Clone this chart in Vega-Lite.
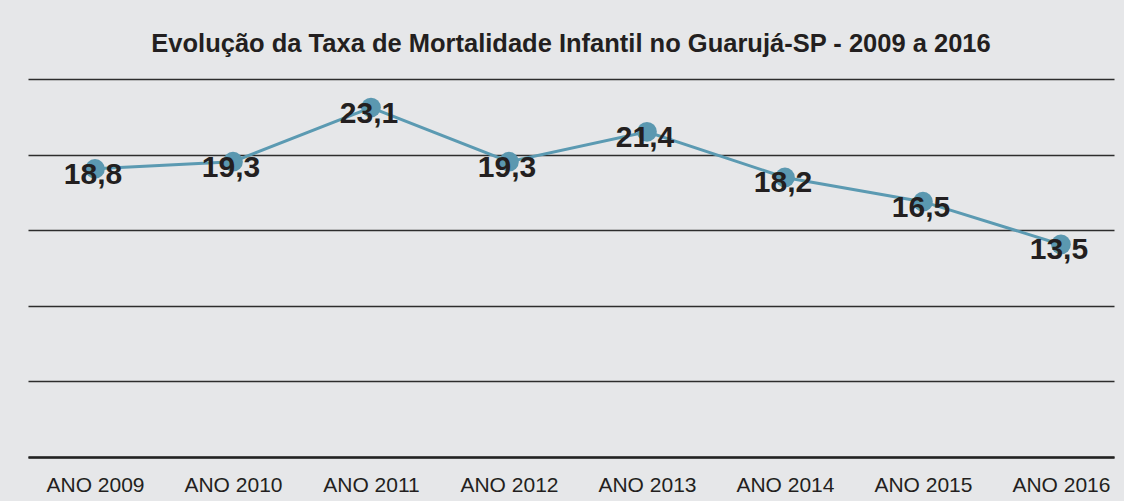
{
  "$schema": "https://vega.github.io/schema/vega-lite/v6.json",
  "width": 1086,
  "height": 378,
  "autosize": "none",
  "padding": {"left": 28, "top": 79, "right": 10, "bottom": 44},
  "background": "#e6e7e9",
  "config": {
    "view": {"stroke": null},
    "locale": {"number": {"decimal": ",", "thousands": ".", "grouping": [3], "currency": ["R$", ""]}}
  },
  "title": {
    "text": "Evolução da Taxa de Mortalidade Infantil no Guarujá-SP - 2009 a 2016",
    "font": "Liberation Sans",
    "fontWeight": "bold",
    "fontSize": 25.5,
    "color": "#231f20",
    "anchor": "middle",
    "baseline": "alphabetic",
    "offset": 2
  },
  "data": {
    "values": [
      {"ano": "ANO 2009", "taxa": 18.8},
      {"ano": "ANO 2010", "taxa": 19.3},
      {"ano": "ANO 2011", "taxa": 23.1},
      {"ano": "ANO 2012", "taxa": 19.3},
      {"ano": "ANO 2013", "taxa": 21.4},
      {"ano": "ANO 2014", "taxa": 18.2},
      {"ano": "ANO 2015", "taxa": 16.5},
      {"ano": "ANO 2016", "taxa": 13.5}
    ]
  },
  "encoding": {
    "x": {
      "field": "ano",
      "type": "ordinal",
      "sort": null,
      "scale": {"type": "point", "padding": 0.435, "align": 0.558},
      "axis": {
        "title": null,
        "labelAngle": 0,
        "ticks": false,
        "grid": false,
        "domain": true,
        "domainColor": "#222222",
        "domainWidth": 2.5,
        "labelFont": "Liberation Sans",
        "labelFontSize": 21,
        "labelColor": "#231f20",
        "labelPadding": 17
      }
    },
    "y": {
      "field": "taxa",
      "type": "quantitative",
      "scale": {"domain": [-1.4, 25.1], "nice": false, "zero": false},
      "axis": {
        "title": null,
        "labels": false,
        "ticks": false,
        "domain": false,
        "grid": true,
        "values": [-1.4, 3.9, 9.2, 14.5, 19.8, 25.1],
        "gridColor": "#2d2d2d",
        "gridWidth": 1.5
      }
    }
  },
  "layer": [
    {"mark": {"type": "line", "color": "#5b9ab2", "strokeWidth": 3}},
    {"mark": {"type": "circle", "size": 390, "color": "#5b98b0", "opacity": 1}},
    {
      "mark": {
        "type": "text",
        "font": "Liberation Sans",
        "fontWeight": "bold",
        "fontSize": 30,
        "color": "#231f20",
        "dy": 6,
        "dx": -2
      },
      "encoding": {"text": {"field": "taxa", "type": "quantitative", "format": ".1f"}}
    }
  ]
}
